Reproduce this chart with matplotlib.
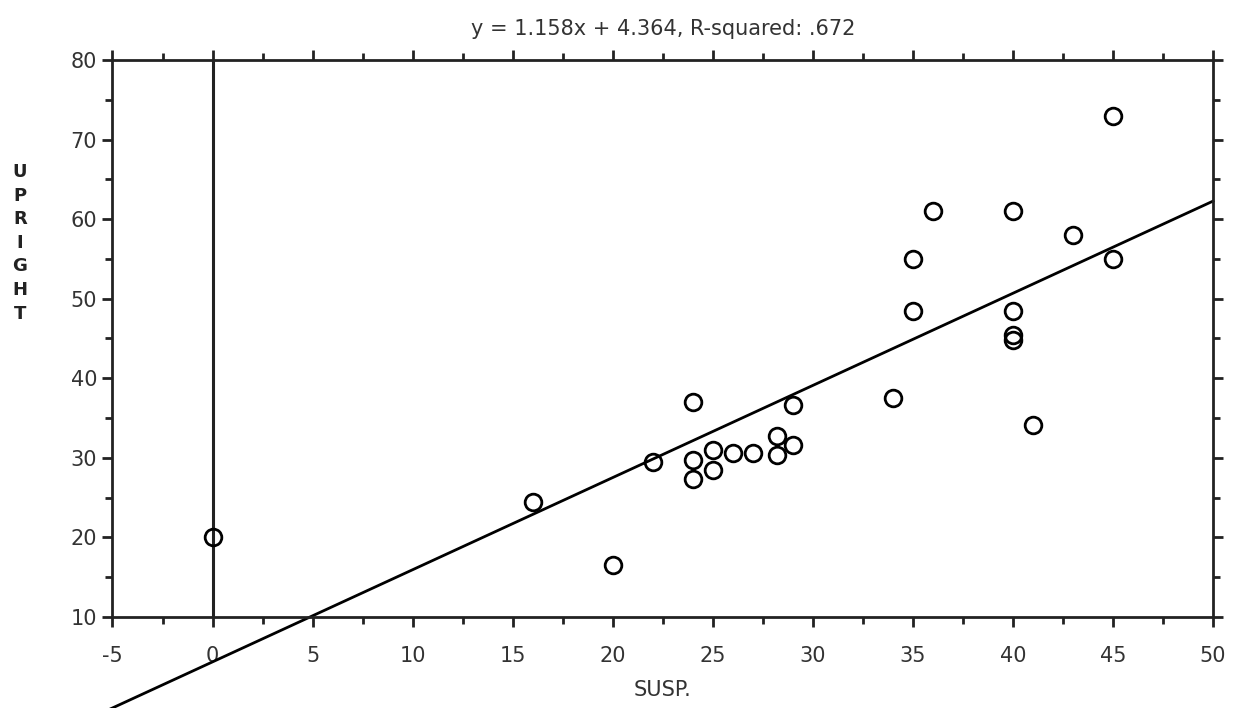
import matplotlib.pyplot as plt
import numpy as np
from matplotlib.ticker import MultipleLocator

plt.rcParams['axes.unicode_minus'] = False

# data
susp = [0, 16, 20, 22, 24, 24, 24, 25, 25, 26, 27, 28.2, 28.2, 29, 29,
        34, 41, 45, 36, 40, 43, 35, 45, 35, 40, 40, 40]
upright = [20, 24.5, 16.5, 29.5, 37, 29.7, 27.4, 31, 28.5, 30.6, 30.6, 32.7, 30.4, 31.6, 36.7,
           37.5, 34.1, 73, 61, 61, 58, 55, 55, 48.4, 48.4, 45.5, 44.8]

slope = 1.158
intercept = 4.364
line_x = [-6.4, 50]

fig = plt.figure(figsize=(12.43, 7.08), dpi=100)
ax = fig.add_axes([0.0905, 0.1285, 0.8854, 0.7868])

ax.plot(susp, upright, 'o', markersize=12, markerfacecolor='none',
        markeredgecolor='black', markeredgewidth=2.0, zorder=3)

fit_y = [slope * v + intercept for v in line_x]
ax.plot(line_x, fit_y, color='black', linewidth=2.0, clip_on=False, zorder=2)

# the zero line
ax.axvline(0, color='#222222', linewidth=2.2, zorder=1)

ax.set_xlim(-5, 50)
ax.set_ylim(10, 80)
ax.xaxis.set_major_locator(MultipleLocator(5))
ax.xaxis.set_minor_locator(MultipleLocator(2.5))
ax.yaxis.set_major_locator(MultipleLocator(10))
ax.yaxis.set_minor_locator(MultipleLocator(5))

for s in ax.spines.values():
    s.set_linewidth(2.0)
    s.set_color('#222222')

ax.tick_params(which='both', direction='out', width=2, color='#222222',
               top=True, right=True, labelsize=15, labelcolor='#333333')
ax.tick_params(which='major', length=7, pad=4)
ax.tick_params(which='minor', length=5)
ax.tick_params(axis='x', which='major', pad=14)

ax.set_title("y = 1.158x + 4.364, R-squared: .672", fontsize=15, color='#333333', pad=18)
ax.set_xlabel("SUSP.", fontsize=15, color='#333333', labelpad=10)

fig.text(0.016, 0.657, "\n".join("UPRIGHT"), fontsize=13, fontweight='bold',
         ha='center', va='center', linespacing=1.4, color='#222222')

fig.savefig('out.png', dpi=100)
